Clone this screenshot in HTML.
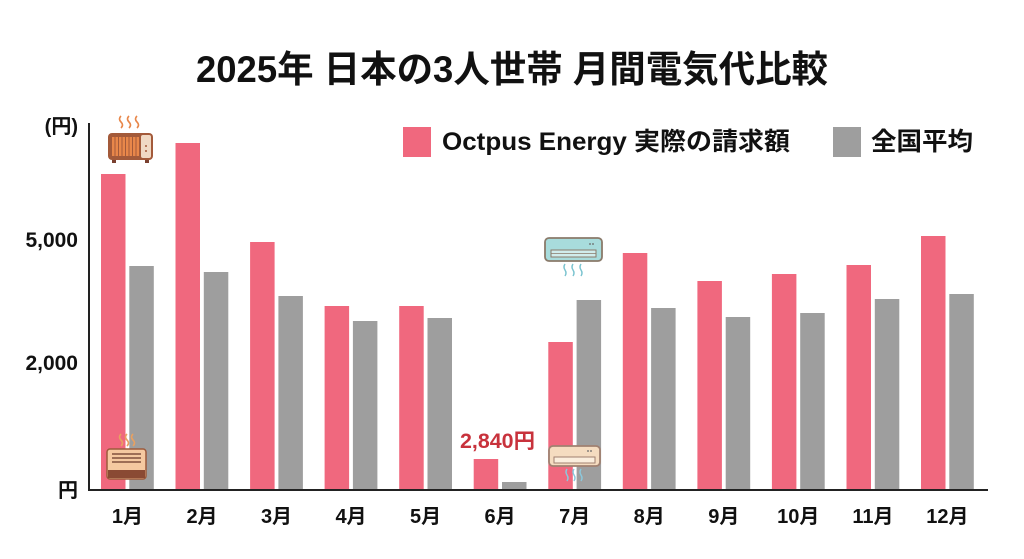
<!DOCTYPE html>
<html><head><meta charset="utf-8"><style>
html,body{margin:0;padding:0;background:#fff;}
svg{display:block;}
text{font-family:"Liberation Sans","Noto Sans CJK JP",sans-serif;font-weight:bold;fill:#111;}
</style></head><body>
<svg width="1024" height="559" viewBox="0 0 1024 559" xmlns="http://www.w3.org/2000/svg">
<rect width="1024" height="559" fill="#fff"/>
<text x="512" y="82" font-size="37" text-anchor="middle" textLength="632" lengthAdjust="spacingAndGlyphs">2025年 日本の3人世帯 月間電気代比較</text>

<!-- legend -->
<rect x="403" y="127" width="28" height="30" fill="#f0687e"/>
<text x="442" y="150" font-size="25" textLength="348" lengthAdjust="spacingAndGlyphs">Octpus Energy 実際の請求額</text>
<rect x="833" y="127" width="28" height="30" fill="#9e9e9e"/>
<text x="871" y="150" font-size="25" textLength="102" lengthAdjust="spacingAndGlyphs">全国平均</text>

<!-- y labels -->
<text x="78" y="133" font-size="20" text-anchor="end">(円)</text>
<text x="78" y="247" font-size="21" text-anchor="end">5,000</text>
<text x="78" y="370" font-size="21" text-anchor="end">2,000</text>
<text x="78" y="497" font-size="20" text-anchor="end">円</text>

<!-- bars -->
<g fill="#f0687e">
<rect x="101" y="174" width="24.5" height="316"/>
<rect x="175.5" y="143" width="24.5" height="347"/>
<rect x="250.1" y="242" width="24.5" height="248"/>
<rect x="324.6" y="306" width="24.5" height="184"/>
<rect x="399.2" y="306" width="24.5" height="184"/>
<rect x="473.7" y="459" width="24.5" height="31"/>
<rect x="548.3" y="342" width="24.5" height="148"/>
<rect x="622.8" y="253" width="24.5" height="237"/>
<rect x="697.4" y="281" width="24.5" height="209"/>
<rect x="771.9" y="274" width="24.5" height="216"/>
<rect x="846.5" y="265" width="24.5" height="225"/>
<rect x="921" y="236" width="24.5" height="254"/>
</g>
<g fill="#9e9e9e">
<rect x="129.3" y="266" width="24.5" height="224"/>
<rect x="203.8" y="272" width="24.5" height="218"/>
<rect x="278.4" y="296" width="24.5" height="194"/>
<rect x="352.9" y="321" width="24.5" height="169"/>
<rect x="427.5" y="318" width="24.5" height="172"/>
<rect x="502" y="482" width="24.5" height="8"/>
<rect x="576.6" y="300" width="24.5" height="190"/>
<rect x="651.1" y="308" width="24.5" height="182"/>
<rect x="725.7" y="317" width="24.5" height="173"/>
<rect x="800.2" y="313" width="24.5" height="177"/>
<rect x="874.8" y="299" width="24.5" height="191"/>
<rect x="949.3" y="294" width="24.5" height="196"/>
</g>

<!-- axes -->
<line x1="89" y1="123" x2="89" y2="491" stroke="#222" stroke-width="2"/>
<line x1="88" y1="490" x2="988" y2="490" stroke="#222" stroke-width="2"/>

<!-- x labels -->
<g font-size="20" text-anchor="middle">
<text x="127.4" y="523">1月</text>
<text x="202" y="523">2月</text>
<text x="276.5" y="523">3月</text>
<text x="351" y="523">4月</text>
<text x="425.6" y="523">5月</text>
<text x="500.1" y="523">6月</text>
<text x="574.7" y="523">7月</text>
<text x="649.2" y="523">8月</text>
<text x="723.8" y="523">9月</text>
<text x="798.3" y="523">10月</text>
<text x="872.9" y="523">11月</text>
<text x="947.4" y="523">12月</text>
</g>

<text x="460" y="448" font-size="21" style="fill:#c8323c" textLength="75" lengthAdjust="spacingAndGlyphs">2,840円</text>

<!-- heater large -->
<g>
<path d="M121 116 q-3 3 0 6 q3 3 0 6 M129 116 q-3 3 0 6 q3 3 0 6 M137 116 q-3 3 0 6 q3 3 0 6" stroke="#e8874a" stroke-width="1.6" fill="none"/>
<rect x="112" y="158" width="4" height="5" fill="#7a4030"/>
<rect x="145" y="158" width="4" height="5" fill="#7a4030"/>
<rect x="108" y="133" width="45" height="27" rx="4" fill="#a35a3a"/>
<rect x="141" y="135" width="10" height="23" rx="2" fill="#f0d9c4"/>
<rect x="112" y="137" width="27" height="19" fill="#e8874a"/>
<g stroke="#a35a3a" stroke-width="1"><line x1="115" y1="137" x2="115" y2="156"/><line x1="118.5" y1="137" x2="118.5" y2="156"/><line x1="122" y1="137" x2="122" y2="156"/><line x1="125.5" y1="137" x2="125.5" y2="156"/><line x1="129" y1="137" x2="129" y2="156"/><line x1="132.5" y1="137" x2="132.5" y2="156"/><line x1="136" y1="137" x2="136" y2="156"/></g>
<circle cx="146" cy="146" r="1" fill="#a35a3a"/><circle cx="146" cy="151" r="1" fill="#a35a3a"/>
</g>

<!-- heater small -->
<g>
<path d="M121 434 q-3 3 0 6 q3 3 0 6 M127 434 q-3 3 0 6 q3 3 0 6 M133 434 q-3 3 0 6 q3 3 0 6" stroke="#e8a060" stroke-width="1.6" fill="none"/>
<rect x="107" y="449" width="39" height="30" rx="3" fill="#f5c9a0" stroke="#9c5a3c" stroke-width="1.5"/>
<rect x="108" y="470" width="37" height="8" fill="#8a4a34"/>
<g stroke="#6a3a2a" stroke-width="1.3"><line x1="112" y1="454" x2="141" y2="454"/><line x1="112" y1="458" x2="141" y2="458"/><line x1="112" y1="462" x2="141" y2="462"/></g>
</g>

<!-- AC top -->
<g>
<rect x="545" y="238" width="57" height="23" rx="4" fill="#a8dcdc" stroke="#8a7a6a" stroke-width="1.8"/>
<rect x="551" y="250" width="45" height="7" fill="#d0ecec" stroke="#8a7a6a" stroke-width="1"/>
<line x1="551" y1="253.5" x2="596" y2="253.5" stroke="#8a7a6a" stroke-width="0.8"/>
<circle cx="590" cy="244" r="0.9" fill="#666"/><circle cx="593" cy="244" r="0.9" fill="#666"/>
<path d="M565 264 q-2 3 0 6 q2 3 0 6 M573 264 q-2 3 0 6 q2 3 0 6 M581 264 q-2 3 0 6 q2 3 0 6" stroke="#7cc4d0" stroke-width="1.5" fill="none"/>
</g>

<!-- AC bottom -->
<g>
<rect x="549" y="446" width="51" height="20" rx="4" fill="#f5dcc0" stroke="#a08070" stroke-width="1.8"/>
<rect x="554" y="457" width="41" height="6" fill="#fbeedd" stroke="#a08070" stroke-width="1"/>
<circle cx="588" cy="451" r="0.9" fill="#666"/><circle cx="591" cy="451" r="0.9" fill="#666"/>
<path d="M567 469 q-2 3 0 6 q2 3 0 6 M574 469 q-2 3 0 6 q2 3 0 6 M581 469 q-2 3 0 6 q2 3 0 6" stroke="#8cc8dc" stroke-width="1.5" fill="none"/>
</g>
</svg>
</body></html>
